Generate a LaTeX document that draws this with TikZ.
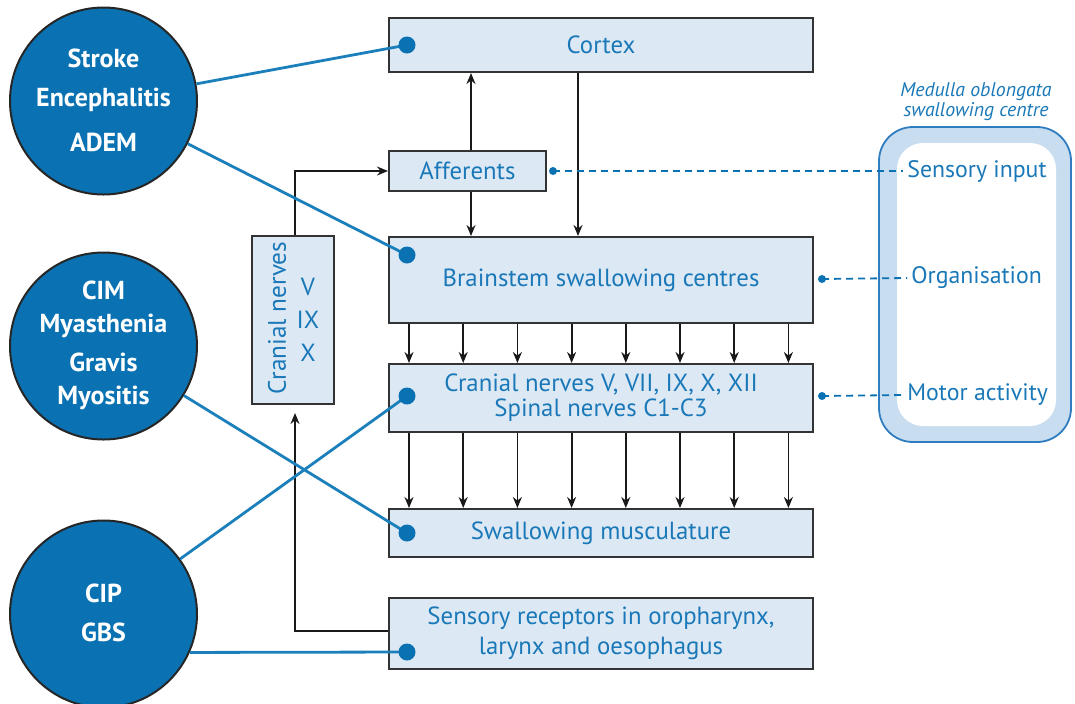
\documentclass[tikz,border=0pt]{standalone}
\usepackage{fontspec}
\setmainfont{PT Sans}
\usetikzlibrary{arrows.meta,calc}
\definecolor{boxfill}{HTML}{DCE9F4}
\definecolor{boxtext}{HTML}{1A78B8}
\definecolor{discfill}{HTML}{0A72B2}
\definecolor{linkblue}{HTML}{1A7FBA}
\definecolor{ringfill}{HTML}{C8DDF0}
\definecolor{ringline}{HTML}{2F7DC0}
\definecolor{edge}{HTML}{333333}
\tikzset{
  stagebox/.style={draw=edge, line width=1pt, fill=boxfill, text=boxtext,
    inner sep=0pt, align=center, font=\fontsize{12.4}{14}\selectfont},
  disease/.style={circle, draw=black!85, line width=1pt, fill=discfill,
    minimum size=93.5pt, inner sep=0pt},
  disctext/.style={text=white, font=\fontsize{13}{14}\selectfont\bfseries},
  flow/.style={draw=black!90, line width=0.9pt, -{Stealth[length=5.5pt,width=4.5pt]}},
  link/.style={draw=linkblue, line width=1.4pt},
  linkdot/.style={circle, fill=discfill, inner sep=0pt, minimum size=8.5pt},
  probe/.style={draw=discfill, line width=0.9pt, dash pattern=on 3.5pt off 2.5pt},
  probedot/.style={circle, fill=discfill, inner sep=0pt, minimum size=4pt},
  rolelabel/.style={text=boxtext, anchor=west, inner sep=0pt, font=\fontsize{11.9}{14}\selectfont},
}
\begin{document}
\begin{tikzpicture}[x=0.5pt,y=-0.5pt]
\useasboundingbox (0,0) rectangle (1075,703);

% medulla oblongata frame
\draw[ringline, line width=0.9pt, fill=ringfill, rounded corners=17pt]
  (879,127) rectangle (1071,442);
\fill[white, rounded corners=13pt] (897,143) rectangle (1056,426);
\node[text=boxtext, align=center, font=\fontsize{9.9}{10}\selectfont\itshape]
  (medtitle) at (976,102) {Medulla oblongata\\swallowing centre};

% stage boxes
\node[stagebox, minimum width=212pt, minimum height=27pt] (cortex) at (601,45) {Cortex};
\node[stagebox, minimum width=78.5pt, minimum height=20pt] (aff) at (467.5,171) {Afferents};
\node[stagebox, minimum width=212pt, minimum height=43pt] (brain) at (601,280) {Brainstem swallowing centres};
\node[stagebox, minimum width=212pt, minimum height=34pt,
  font=\fontsize{12.4}{12.5}\selectfont] (motor) at (601,398)
  {Cranial nerves V, VII, IX, X, XII\\Spinal nerves C1-C3};
\node[stagebox, minimum width=212pt, minimum height=24pt] (muscle) at (601,533) {Swallowing musculature};
\node[stagebox, minimum width=212pt, minimum height=35.5pt,
  font=\fontsize{12.4}{15}\selectfont] (recept) at (601,633)
  {Sensory receptors in oropharynx,\\larynx and oesophagus};
\node[stagebox, minimum width=41pt, minimum height=84pt] (cn) at (293,320) {};
\node[text=boxtext, rotate=90, inner sep=0pt, font=\fontsize{12.6}{14}\selectfont] (cnlabel) at (277,318) {Cranial nerves};
\node[text=boxtext, align=center, inner sep=0pt, font=\fontsize{12.4}{16.5}\selectfont] (cnlist) at (308,320) {V\\IX\\X};

% disease circles
\node[disease] (c1) at (103.5,101) {};
\node[disease] (c2) at (103.5,346) {};
\node[disease] (c3) at (103.5,614) {};
\node[disctext] (t1a) at (103.5,58) {Stroke};
\node[disctext] (t1b) at (103.5,100) {Encephalitis};
\node[disctext] (t1c) at (103.5,142) {ADEM};
\node[disctext] (t2a) at (103.5,290) {CIM};
\node[disctext] (t2b) at (103.5,326) {Myasthenia};
\node[disctext] (t2c) at (103.5,362) {Gravis};
\node[disctext] (t2d) at (103.5,398) {Myositis};
\node[disctext] (t3a) at (103.5,593) {CIP};
\node[disctext] (t3b) at (103.5,632) {GBS};

% black flow arrows
\coordinate (affx) at (471,0);
\coordinate (ctx) at (578,0);
\draw[flow] (aff.north -| affx) -- (cortex.south -| affx);
\draw[flow] (aff.south -| affx) -- (brain.north -| affx);
\draw[flow] (cortex.south -| ctx) -- (brain.north -| ctx);
\foreach \i in {0,...,7}{
  \coordinate (col\i) at ({409+54.2*\i},0);
  \draw[flow] (brain.south -| col\i) -- (motor.north -| col\i);
  \draw[flow] (motor.south -| col\i) -- (muscle.north -| col\i);
}
% afferent loop
\coordinate (loopx) at (295,0);
\coordinate (loopy) at (0,631);
\coordinate (cnfoot) at (295,413);
\draw[flow] (recept.west |- loopy) -- (loopx |- loopy) -- (cnfoot);
\draw[flow] (cn.north -| loopx) |- (aff.west);

% blue links from circles
\coordinate (d1) at (407,45);
\coordinate (d2) at (407,255);
\coordinate (d3) at (407,533);
\coordinate (d4) at (407,396);
\coordinate (d5) at (407,652);
\draw[link] (c1) -- (d1);
\draw[link] (c1) -- (d2);
\draw[link] (c2) -- (d3);
\draw[link] (c3) -- (d4);
\draw[link] (c3.-24) -- (d5);
\foreach \d in {d1,d2,d3,d4,d5} \node[linkdot] at (\d) {};

% dashed links to the medulla roles
\node[rolelabel] (sens) at (907,171) {Sensory input};
\node[rolelabel] (org) at (911,278) {Organisation};
\node[rolelabel] (mot) at (907,395) {Motor activity};
\coordinate (p1) at (553,171);
\coordinate (p2) at (822,279);
\coordinate (p3) at (822,396);
\draw[probe] (p1) -- ([xshift=-2pt]sens.west);
\draw[probe] (p2) -- ([xshift=-2pt]org.west);
\draw[probe] (p3) -- ([xshift=-2pt]mot.west);
\foreach \p in {p1,p2,p3} \node[probedot] at (\p) {};
\end{tikzpicture}
\end{document}
